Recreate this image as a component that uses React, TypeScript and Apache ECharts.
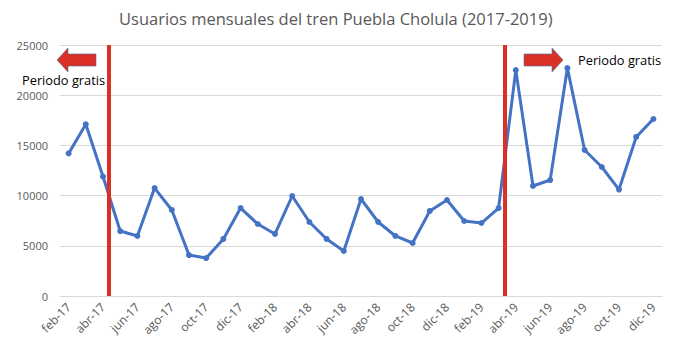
import React, { useEffect, useRef } from "react";
import * as echarts from "echarts";

const TITLE = "Usuarios mensuales del tren Puebla Cholula (2017-2019)";
const months: string[] = [
  "feb-17", "mar-17", "abr-17", "may-17", "jun-17", "jul-17", "ago-17", "sep-17", "oct-17", "nov-17", "dic-17",
  "ene-18", "feb-18", "mar-18", "abr-18", "may-18", "jun-18", "jul-18", "ago-18", "sep-18", "oct-18", "nov-18", "dic-18",
  "ene-19", "feb-19", "mar-19", "abr-19", "may-19", "jun-19", "jul-19", "ago-19", "sep-19", "oct-19", "nov-19", "dic-19",
];
const users: number[] = [
  14200, 17100, 11900, 6470, 5980, 10750, 8570, 4080, 3780, 5680, 8760,
  7170, 6180, 9960, 7370, 5680, 4480, 9660, 7370, 5980, 5280, 8470, 9560,
  7470, 7270, 8760, 22500, 10960, 11550, 22700, 14540, 12850, 10600, 15840, 17630,
];
const yTicks = { min: 0, max: 25000, interval: 5000 };
// Position of the red dividers, in months counted from the start of feb-17
const dividerPositions: number[] = [2.85, 25.87];
const annotationLabel = "Periodo gratis";

export default function App() {
  const ref = useRef<HTMLDivElement>(null);
  useEffect(() => {
    document.body.style.margin = "0";
    if (!ref.current) return;
    const chart = echarts.init(ref.current, undefined, { renderer: "svg" });
    const red = "#DA3026";
    const font = "'Open Sans', 'Liberation Sans', sans-serif";
    chart.setOption({
      animation: false,
      title: {
        text: TITLE,
        left: 114,
        top: 5,
        textStyle: { fontFamily: font, fontSize: 16.5, fontWeight: "normal", color: "#595959" },
      },
      grid: { left: 60, right: 13, top: 45, bottom: 57 },
      xAxis: [
        {
          type: "category",
          data: months,
          boundaryGap: true,
          axisLine: { lineStyle: { color: "#d9d9d9" } },
          axisTick: { interval: 1, length: 4, lineStyle: { color: "#d9d9d9" } },
          axisLabel: { interval: 1, rotate: 45, margin: 9, color: "#595959", fontSize: 12, fontFamily: font },
        },
        { type: "value", min: 0, max: months.length, show: false },
      ],
      yAxis: {
        type: "value",
        ...yTicks,
        axisLine: { show: false },
        axisTick: { show: false },
        axisLabel: { color: "#595959", fontSize: 11, fontFamily: font, margin: 12, formatter: (v: number) => String(v) },
        splitLine: { lineStyle: { color: "#d9d9d9" } },
      },
      series: [
        {
          type: "line",
          data: users,
          xAxisIndex: 0,
          symbol: "circle",
          symbolSize: 6,
          lineStyle: { color: "#4472C4", width: 3 },
          itemStyle: { color: "#4472C4" },
          z: 2,
        },
        {
          type: "line",
          xAxisIndex: 1,
          data: [],
          z: 3,
          markLine: {
            silent: true,
            symbol: "none",
            label: { show: false },
            lineStyle: { color: red, width: 4, type: "solid" },
            data: dividerPositions.map((v) => ({ xAxis: v })),
          },
        },
      ],
      graphic: [
        {
          type: "polygon",
          shape: { points: [[57, 60], [68, 48], [68, 54], [96, 54], [96, 66], [68, 66], [68, 72]] },
          style: { fill: red, stroke: "#41719C", lineWidth: 0.6 },
        },
        {
          type: "polygon",
          shape: { points: [[524, 54], [552, 54], [552, 48], [563, 60], [552, 72], [552, 66], [524, 66]] },
          style: { fill: red, stroke: "#41719C", lineWidth: 0.6 },
        },
        {
          type: "text",
          x: 22,
          y: 80,
          style: { text: annotationLabel, fill: "#000", fontSize: 12.8, fontFamily: font, verticalAlign: "middle" },
        },
        {
          type: "text",
          x: 578,
          y: 60,
          style: { text: annotationLabel, fill: "#000", fontSize: 12.8, fontFamily: font, verticalAlign: "middle" },
        },
      ],
    });
    return () => chart.dispose();
  }, []);
  return <div ref={ref} style={{ width: 675, height: 353 }} />;
}
